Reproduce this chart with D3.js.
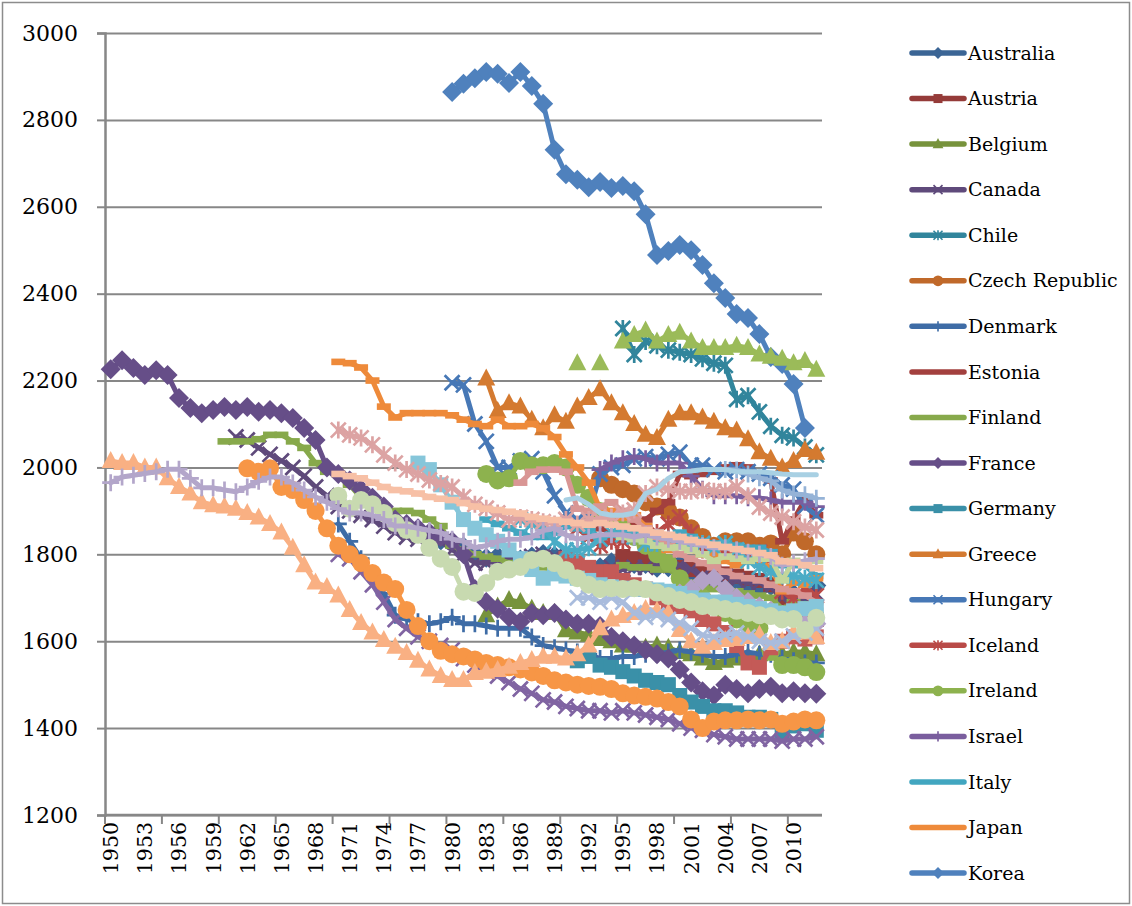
<!DOCTYPE html>
<html><head><meta charset="utf-8">
<script src="https://cdn.jsdelivr.net/npm/d3@7"></script>
<style>
body{margin:0;background:#fff}
svg{display:block}
text{font-family:"DejaVu Serif","Liberation Serif",serif;fill:#000}
</style>
</head><body>
<svg id="chart" width="1132" height="906"></svg>
<script>
// ---------- categories & ticks ----------
const categories = d3.range(1950, 2013).map(String);
const xTickLabels = ["1950","1953","1956","1959","1962","1965","1968","1971","1974","1977","1980","1983","1986","1989","1992","1995","1998","2001","2004","2007","2010"];
const yTickValues = [1200,1400,1600,1800,2000,2200,2400,2600,2800,3000];

// ---------- series values (annual hours worked), first year + values ----------
const australia = {start:1979, hours:[1832,1829,1818,1801,1792,1796,1792,1788,1795,1801,1797,1781,1764,1759,1770,1782,1783,1778,1778,1769,1770,1777,1749,1747,1745,1745,1733,1730,1725,1727,1697,1709,1707,1728]};
const austria = {start:1995, hours:[1795,1790,1785,1780,1775,1770,1765,1760,1760,1755,1750,1745,1740,1730,1690,1680,1670,1650]};
const belgium = {start:1983, hours:[1660,1680,1695,1690,1675,1665,1665,1625,1620,1615,1605,1600,1590,1590,1585,1590,1585,1575,1570,1560,1550,1555,1560,1565,1570,1575,1570,1575,1575,1570]};
const canada = {start:1961, hours:[2070,2063,2045,2030,2015,2000,1980,1955,1935,1910,1900,1890,1880,1865,1850,1840,1835,1830,1830,1810,1800,1780,1780,1785,1790,1790,1795,1800,1795,1780,1760,1755,1760,1770,1765,1770,1770,1775,1780,1775,1765,1750,1740,1750,1740,1735,1735,1725,1700,1700,1700,1710]};
const chile = {start:1995, hours:[2320,2260,2290,2280,2270,2265,2260,2250,2240,2235,2157,2165,2128,2095,2074,2068,2047,2029]};
const czech = {start:1993, hours:[1975,1960,1950,1940,1920,1910,1900,1885,1860,1840,1820,1830,1830,1830,1820,1825,1800,1850,1830,1800]};
const denmark = {start:1970, hours:[1870,1830,1790,1750,1710,1660,1650,1645,1640,1645,1655,1640,1640,1635,1630,1630,1630,1610,1590,1585,1580,1575,1570,1560,1560,1565,1565,1570,1570,1575,1580,1575,1570,1565,1565,1570,1575,1570,1570,1560,1555,1550,1550]};
const estonia = {start:1993, hours:[1860,1850,1860,1870,1880,1900,1920,1985,1980,1985,1990,2000,2005,2000,1985,1970,1830,1880,1925,1890]};
const finland = {start:1960, hours:[2060,2060,2060,2065,2075,2075,2060,2045,2010,1990,1985,1960,1930,1910,1905,1900,1900,1895,1880,1865,1820,1810,1800,1795,1790,1780,1765,1770,1770,1765,1765,1740,1735,1730,1760,1775,1770,1770,1765,1765,1750,1735,1725,1720,1720,1715,1710,1705,1700,1675,1690,1685,1670]};
const france = {start:1950, hours:[2226,2247,2229,2213,2224,2213,2160,2137,2125,2132,2139,2132,2139,2128,2132,2125,2114,2091,2063,2000,1985,1970,1950,1930,1910,1880,1870,1860,1850,1840,1830,1800,1720,1690,1675,1655,1645,1665,1660,1665,1650,1640,1640,1635,1610,1600,1590,1580,1570,1560,1535,1505,1485,1475,1500,1490,1480,1490,1495,1480,1485,1480,1479]};
const germany = {start:1991, hours:[1555,1565,1545,1540,1530,1520,1510,1505,1500,1475,1460,1450,1440,1440,1435,1425,1425,1420,1385,1405,1410,1395]};
const greece = {start:1983, hours:[2205,2130,2148,2140,2110,2090,2120,2105,2140,2160,2180,2148,2125,2100,2075,2068,2110,2125,2125,2115,2105,2090,2085,2065,2035,2020,2000,2015,2040,2034]};
const hungary = {start:1980, hours:[2195,2190,2100,2060,2000,2000,2015,2020,1990,1935,1895,1880,1890,1985,2000,2005,2020,2025,2020,2030,2035,2005,2005,1995,1990,1995,1990,1985,1975,1960,1950,1910,1890]};
const iceland = {start:1991, hours:[1860,1840,1820,1830,1830,1840,1830,1850,1870,1885,1850,1810,1810,1810,1795,1795,1805,1790,1715,1700,1720,1705]};
const ireland = {start:1983, hours:[1985,1970,1975,2015,2005,2005,2010,2000,1960,1930,1900,1880,1860,1840,1820,1800,1780,1745,1720,1700,1680,1665,1650,1640,1630,1575,1545,1545,1540,1529]};
const israel = {start:1993, hours:[1995,2010,2020,2025,2020,2010,2010,2010,1980,1950,1935,1935,1935,1930,1930,1925,1920,1920,1920,1910]};
const italy = {start:1983, hours:[1880,1870,1860,1850,1840,1840,1850,1865,1860,1855,1840,1845,1855,1855,1855,1850,1840,1850,1840,1830,1825,1825,1820,1815,1815,1805,1775,1775,1775,1750]};
const japan = {start:1970, hours:[2243,2240,2230,2200,2140,2115,2125,2125,2125,2125,2120,2110,2100,2095,2110,2095,2095,2100,2090,2070,2030,2000,1965,1905,1900,1885,1890,1865,1840,1810,1820,1810,1800,1800,1785,1775,1785,1785,1770,1715,1735,1730,1745]};
const korea = {start:1980, hours:[2864,2883,2896,2910,2906,2885,2910,2878,2837,2731,2675,2662,2645,2657,2643,2648,2636,2583,2489,2498,2512,2500,2466,2424,2390,2353,2344,2307,2254,2238,2192,2091]};
const luxembourg = {start:1990, hours:[1790,1780,1770,1760,1760,1740,1730,1720,1700,1690,1680,1670,1650,1640,1620,1590,1550,1540,1585,1600,1610,1605,1610]};
const mexico = {start:1991, hours:[2240,null,2240,null,2290,2305,2315,2290,2305,2310,2290,2275,2275,2275,2280,2275,2260,2255,2250,2240,2245,2225]};
const netherlands = {start:1970, hours:[1800,1790,1760,1730,1690,1650,1630,1610,1600,1590,1580,1560,1545,1530,1520,1505,1490,1480,1465,1460,1450,1445,1440,1440,1435,1440,1435,1430,1425,1420,1410,1400,1395,1385,1380,1375,1375,1375,1375,1370,1375,1375,1380]};
const newZealand = {start:1986, hours:[1880,1870,1860,1830,1810,1810,1815,1835,1850,1845,1840,1825,1825,1835,1830,1825,1825,1815,1825,1810,1785,1770,1760,1750,1750,1745,1740]};
const norway = {start:1962, hours:[1998,1990,1998,1955,1948,1925,1900,1860,1820,1800,1780,1757,1735,1720,1672,1635,1600,1578,1570,1565,1558,1550,1545,1540,1535,1528,1520,1510,1505,1500,1497,1495,1490,1480,1475,1472,1468,1460,1450,1420,1400,1415,1418,1418,1420,1418,1420,1410,1415,1420,1418]};
const poland = {start:2004, hours:[1995,1994,1985,1976,1969,1948,1939,1937,1929]};
const portugal = {start:1986, hours:[1965,1990,1995,1995,1990,1905,1900,1910,1920,1900,1880,1860,1840,1820,1800,1790,1780,1770,1760,1750,1745,1740,1730,1720,1715,1705,1690]};
const slovakia = {start:1995, hours:[1840,1835,1830,1820,1815,1816,1810,1800,1785,1795,1790,1785,1790,1790,1740,1785,1780,1785]};
const slovenia = {start:2000, hours:[1710,1720,1740,1745,1720,1700,1690,1680,1670,1660,1650,1640,1640]};
const spain = {start:1977, hours:[2010,1995,1960,1920,1880,1860,1845,1830,1810,1790,1765,1745,1755,1750,1745,1740,1730,1725,1722,1720,1720,1718,1715,1710,1700,1695,1690,1690,1685,1680,1675,1670,1665,1670,1675,1680]};
const sweden = {start:1950, hours:[2015,2010,2010,2000,2000,1975,1955,1940,1920,1913,1910,1905,1895,1885,1870,1850,1815,1775,1735,1725,1705,1672,1642,1620,1603,1587,1573,1555,1535,1520,1511,1511,1527,1530,1534,1541,1550,1557,1564,1564,1560,1570,1590,1630,1650,1658,1665,1674,1670,1665,1626,1600,1587,1596,1603,1605,1610,1615,1596,1600,1619,1620,1610]};
const switzerland = {start:1991, hours:[1700,1700,1690,1700,1690,1665,1655,1660,1650,1642,1630,1614,1610,1615,1619,1610,1600,1596,1600,1612,1619,1630]};
const turkey = {start:1970, hours:[2086,2075,2068,2052,2029,2010,1995,1985,1971,1963,1955,1932,1915,1906,1895,1879,1885,1880,1875,1870,1880,1870,1880,1880,1886,1895,1902,1940,1955,1950,1945,1945,1948,1945,1945,1955,1935,1909,1895,1886,1875,1863,1856]};
const unitedKingdom = {start:1970, hours:[1935,1905,1925,1915,1895,1872,1856,1845,1815,1790,1771,1714,1711,1734,1760,1765,1771,1787,1790,1780,1764,1745,1730,1720,1722,1720,1722,1720,1712,1704,1695,1690,1681,1678,1674,1670,1665,1660,1658,1650,1651,1626,1654]};
const unitedStates = {start:1950, hours:[1965,1978,1982,1986,1990,1996,1996,1975,1953,1953,1948,1944,1955,1968,1978,1978,1964,1948,1932,1920,1905,1895,1895,1890,1880,1865,1865,1860,1855,1850,1835,1830,1815,1820,1830,1835,1835,1840,1855,1860,1845,1835,1840,1845,1845,1845,1840,1845,1840,1835,1830,1825,1820,1815,1815,1810,1805,1800,1795,1775,1780,1785,1790]};
const russia = {start:1990, hours:[1925,1930,1915,1895,1890,1890,1895,1940,1950,1975,1990,1992,1995,1995,1995,1990,1990,1990,1988,1985,1983,1983,1983]};
const oecdTotal = {start:1970, hours:[1985,1980,1975,1965,1955,1948,1945,1940,1932,1928,1925,1918,1910,1905,1902,1898,1894,1886,1882,1879,1875,1872,1868,1872,1868,1864,1860,1856,1850,1845,1840,1833,1828,1822,1817,1812,1808,1803,1798,1784,1782,1775,1768]};

const seriesList = [
  {name:"Australia", data:australia, color:"#3B6595", marker:"diamond"},
  {name:"Austria", data:austria, color:"#953B39", marker:"square"},
  {name:"Belgium", data:belgium, color:"#77933C", marker:"triangle"},
  {name:"Canada", data:canada, color:"#5F4A7B", marker:"x"},
  {name:"Chile", data:chile, color:"#31859C", marker:"star"},
  {name:"Czech Republic", data:czech, color:"#C0692A", marker:"circle"},
  {name:"Denmark", data:denmark, color:"#3E6CA6", marker:"plus"},
  {name:"Estonia", data:estonia, color:"#A3403E", marker:"dash"},
  {name:"Finland", data:finland, color:"#87A94B", marker:"dash"},
  {name:"France", data:france, color:"#664E88", marker:"diamond"},
  {name:"Germany", data:germany, color:"#3A90A8", marker:"square"},
  {name:"Greece", data:greece, color:"#D47A30", marker:"triangle"},
  {name:"Hungary", data:hungary, color:"#4778B6", marker:"x"},
  {name:"Iceland", data:iceland, color:"#B94A47", marker:"star"},
  {name:"Ireland", data:ireland, color:"#8DB24E", marker:"circle"},
  {name:"Israel", data:israel, color:"#7A5E9E", marker:"plus"},
  {name:"Italy", data:italy, color:"#42A6C0", marker:"dash"},
  {name:"Japan", data:japan, color:"#EE8A3A", marker:"dash"},
  {name:"Korea", data:korea, color:"#4F81BD", marker:"diamond"},
  {name:"Luxembourg", data:luxembourg, color:"#C45A57", marker:"square"},
  {name:"Mexico", data:mexico, color:"#9BBB59", marker:"triangle"},
  {name:"Netherlands", data:netherlands, color:"#8064A2", marker:"x"},
  {name:"New Zealand", data:newZealand, color:"#4BACC6", marker:"star"},
  {name:"Norway", data:norway, color:"#F79646", marker:"circle"},
  {name:"Poland", data:poland, color:"#95B3D7", marker:"plus"},
  {name:"Portugal", data:portugal, color:"#D99694", marker:"dash"},
  {name:"Slovak Republic", data:slovakia, color:"#C3D69B", marker:"dash"},
  {name:"Slovenia", data:slovenia, color:"#B3A2C7", marker:"diamond"},
  {name:"Spain", data:spain, color:"#86C6DA", marker:"square"},
  {name:"Sweden", data:sweden, color:"#F9B083", marker:"triangle"},
  {name:"Switzerland", data:switzerland, color:"#A9BCDD", marker:"x"},
  {name:"Turkey", data:turkey, color:"#DCA3A3", marker:"star"},
  {name:"United Kingdom", data:unitedKingdom, color:"#C8DAB0", marker:"circle"},
  {name:"United States", data:unitedStates, color:"#B3A6CA", marker:"plus"},
  {name:"Russian Federation", data:russia, color:"#A8D0E3", marker:"none"},
  {name:"OECD countries", data:oecdTotal, color:"#F7C0A6", marker:"dash"}
];
const legendCount = 19;

// ---------- layout ----------
const svg = d3.select("#chart");
const W = 1132, H = 906;
const plot = {left:105, right:822, top:33, bottom:815};
const gridColor = "#878787";

svg.append("rect").attr("x",2.5).attr("y",2.5).attr("width",W-5).attr("height",H-5)
  .attr("fill","#fff").attr("stroke","#8c8c8c").attr("stroke-width",1.5);

const x = d3.scaleBand().domain(categories).range([plot.left, plot.right]).paddingInner(0).paddingOuter(0);
const bw = x.bandwidth();
const y = d3.scaleLinear().domain([1200,3000]).range([plot.bottom, plot.top]);

// gridlines
const grid = svg.append("g").attr("transform",`translate(${plot.left},0)`)
  .call(d3.axisLeft(y).tickValues(yTickValues).tickSize(-(plot.right-plot.left)).tickFormat(""));
grid.select(".domain").remove();
grid.selectAll("line").attr("stroke",gridColor).attr("stroke-width",2);

// y axis
const yAxis = svg.append("g").attr("transform",`translate(${plot.left},0)`)
  .call(d3.axisLeft(y).tickValues(yTickValues).tickSize(8).tickPadding(19).tickFormat(d3.format("d")));
yAxis.select(".domain").attr("stroke",gridColor).attr("stroke-width",2.5);
yAxis.selectAll("line").attr("stroke",gridColor).attr("stroke-width",2);
yAxis.selectAll("text").attr("font-family","DejaVu Serif").attr("font-size",22).attr("fill","#000");

// x axis (tick marks every 5 categories at band edges)
const xTicks = svg.append("g").attr("transform",`translate(${-bw/2},${plot.bottom})`)
  .call(d3.axisBottom(x).tickValues(categories.filter((d,i)=>i%5===0)).tickSize(9).tickFormat(""));
xTicks.select(".domain").remove();
xTicks.selectAll("line").attr("stroke",gridColor).attr("stroke-width",2);
svg.append("line").attr("x1",plot.left).attr("x2",plot.right).attr("y1",plot.bottom).attr("y2",plot.bottom)
  .attr("stroke",gridColor).attr("stroke-width",2.5);

// x labels (rotated)
const xLab = svg.append("g").attr("transform",`translate(0,${plot.bottom})`)
  .call(d3.axisBottom(x).tickValues(xTickLabels).tickSize(0).tickPadding(0));
xLab.select(".domain").remove();
xLab.selectAll(".tick text")
  .attr("font-family","DejaVu Serif").attr("font-size",20.5).attr("fill","#000")
  .attr("transform","rotate(-90)").attr("text-anchor","end")
  .attr("x",-7).attr("y",0).attr("dy","0.36em");

// ---------- markers ----------
function markerPath(type, s) {
  const p = d3.path();
  switch(type) {
    case "diamond": p.moveTo(0,-10*s); p.lineTo(10*s,0); p.lineTo(0,10*s); p.lineTo(-10*s,0); p.closePath(); break;
    case "triangle": p.moveTo(0,-10*s); p.lineTo(9*s,7*s); p.lineTo(-9*s,7*s); p.closePath(); break;
    case "x": p.moveTo(-7.5*s,-7.5*s); p.lineTo(7.5*s,7.5*s); p.moveTo(-7.5*s,7.5*s); p.lineTo(7.5*s,-7.5*s); break;
    case "star": p.moveTo(-7.5*s,-7.5*s); p.lineTo(7.5*s,7.5*s); p.moveTo(-7.5*s,7.5*s); p.lineTo(7.5*s,-7.5*s); p.moveTo(0,-8.5*s); p.lineTo(0,8.5*s); break;
    case "plus": p.moveTo(-8.5*s,0); p.lineTo(8.5*s,0); p.moveTo(0,-8.5*s); p.lineTo(0,8.5*s); break;
  }
  return p.toString();
}
function drawMarker(g, type, cx, cy, color, s) {
  if (type === "none") return;
  if (type === "circle") {
    g.append("circle").attr("cx",cx).attr("cy",cy).attr("r",9*s).attr("fill",color);
  } else if (type === "square") {
    g.append("rect").attr("x",cx-7.5*s).attr("y",cy-7.5*s).attr("width",15*s).attr("height",15*s).attr("fill",color);
  } else if (type === "dash") {
    g.append("rect").attr("x",cx-7*s).attr("y",cy-3.3*s).attr("width",14*s).attr("height",6.6*s).attr("fill",color);
  } else if (type === "diamond" || type === "triangle") {
    g.append("path").attr("transform",`translate(${cx},${cy})`).attr("d",markerPath(type,s)).attr("fill",color);
  } else {
    g.append("path").attr("transform",`translate(${cx},${cy})`).attr("d",markerPath(type,s))
      .attr("fill","none").attr("stroke",color).attr("stroke-width",2.7*s).attr("stroke-linecap","butt");
  }
}

// ---------- lines ----------
const line = d3.line()
  .defined(d => d.v !== null)
  .x(d => x(String(d.year)) + bw/2)
  .y(d => y(d.v));

const plotG = svg.append("g");
seriesList.forEach(s => {
  const pts = s.data.hours.map((v,i) => ({year: s.data.start + i, v: v}));
  const g = plotG.append("g");
  g.append("path").datum(pts).attr("d",line).attr("fill","none")
    .attr("stroke",s.color).attr("stroke-width",5).attr("stroke-linejoin","round").attr("stroke-linecap","round");
  pts.filter(d => d.v !== null).forEach(d => drawMarker(g, s.marker, x(String(d.year))+bw/2, y(d.v), s.color, 1));
});

// ---------- legend ----------
const legendTop = 53, legendStep = 45.56;
const lg = svg.append("g");
seriesList.slice(0, legendCount).forEach((s,i) => {
  const cy = legendTop + i*legendStep;
  lg.append("line").attr("x1",912).attr("x2",964).attr("y1",cy).attr("y2",cy)
    .attr("stroke",s.color).attr("stroke-width",5.5).attr("stroke-linecap","round");
  const mk = s.marker === "dash" ? "none" : s.marker;
  drawMarker(lg, mk, 938, cy, s.color, 0.6);
  lg.append("text").attr("x",968).attr("y",cy).attr("dy","0.35em")
    .attr("font-size",19).text(s.name);
});
</script>
</body></html>
